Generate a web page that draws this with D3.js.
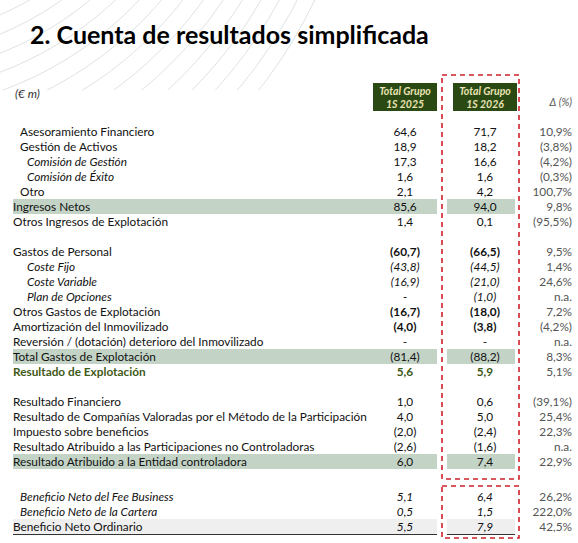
<!DOCTYPE html>
<html><head><meta charset="utf-8">
<script src="https://cdn.jsdelivr.net/npm/d3@7"></script>
<style>body{margin:0;background:#fff}</style></head>
<body><svg id="c" width="578" height="543"></svg>
<script>
const labels = ["Asesoramiento Financiero","Gestión de Activos","Comisión de Gestión","Comisión de Éxito","Otro","Ingresos Netos","Otros Ingresos de Explotación","",
"Gastos de Personal","Coste Fijo","Coste Variable","Plan de Opciones","Otros Gastos de Explotación","Amortización del Inmovilizado","Reversión / (dotación) deterioro del Inmovilizado","Total Gastos de Explotación","Resultado de Explotación","",
"Resultado Financiero","Resultado de Compañías Valoradas por el Método de la Participación","Impuesto sobre beneficios","Resultado Atribuido a las Participaciones no Controladoras","Resultado Atribuido a la Entidad controladora","", "",
"Beneficio Neto del Fee Business","Beneficio Neto de la Cartera","Beneficio Neto Ordinario"];
const v2025 = ["64,6","18,9","17,3","1,6","2,1","85,6","1,4","","(60,7)","(43,8)","(16,9)","-","(16,7)","(4,0)","-","(81,4)","5,6","","1,0","4,0","(2,0)","(2,6)","6,0","","","5,1","0,5","5,5"];
const v2026 = ["71,7","18,2","16,6","1,6","4,2","94,0","0,1","","(66,5)","(44,5)","(21,0)","(1,0)","(18,0)","(3,8)","-","(88,2)","5,9","","0,6","5,0","(2,4)","(1,6)","7,4","","","6,4","1,5","7,9"];
const delta = ["10,9%","(3,8%)","(4,2%)","(0,3%)","100,7%","9,8%","(95,5%)","","9,5%","1,4%","24,6%","n.a.","7,2%","(4,2%)","n.a.","8,3%","5,1%","","(39,1%)","25,4%","22,3%","n.a.","22,9%","","","26,2%","222,0%","42,5%"];
const styles = ["i","i","s","s","i","h","","","b","s e","s e","s e","b","b","","h","g","","","","","","h","","","e s2","e s2 u","e t"];

const svg = d3.select("#c");
const F = "Lato, 'Open Sans', sans-serif";
const arcs = svg.append("g");
d3.range(14).forEach(k=>arcs.append("circle").attr("cx",-120).attr("cy",-260+k*4).attr("r",300+k*14)
  .attr("fill","none").attr("stroke","#dde3e3").attr("stroke-width",1));
svg.append("rect").attr("x",0).attr("y",90).attr("width",578).attr("height",460).attr("fill","#fff");
svg.append("text").attr("x",30).attr("y",44).attr("font-family",F).attr("font-weight",700).attr("font-size",25).attr("fill","#000").text("2. Cuenta de resultados simplificada");

const yl = d3.scaleLinear().domain([0,1]).range([132,147]);
const y = i => i>=25 ? yl(i - 2/3) : yl(i);
const x = {lab:13, c1:405, c2:485, d:572};
const g = svg.append("g").attr("font-family",F).attr("font-size",11.8);

g.append("text").attr("x",15).attr("y",98).attr("font-style","italic").attr("fill","#333").text("(€ m)");
[[x.c1,"1S 2025"],[x.c2,"1S 2026"]].forEach(([cx,t])=>{
  g.append("rect").attr("x",cx-32).attr("y",83).attr("width",64).attr("height",28).attr("fill","#2b4a13");
  const tt=g.append("text").attr("x",cx).attr("text-anchor","middle").attr("font-style","italic").attr("font-weight",700).attr("fill","#e9e3b4").attr("font-size",10.5);
  tt.append("tspan").attr("x",cx).attr("y",95).text("Total Grupo");
  tt.append("tspan").attr("x",cx).attr("y",108).text(t);
});
g.append("text").attr("x",x.d).attr("y",106).attr("text-anchor","end").attr("font-style","italic").attr("fill","#555").attr("font-size",10.5).text("Δ (%)");

labels.forEach((l,i)=>{
  if(!l) return;
  const st = styles[i].split(" ");
  const cy = y(i);
  const band = (fill)=>{
    g.append("rect").attr("x",13).attr("y",cy-8).attr("width",424).attr("height",15).attr("fill",fill);
    g.append("rect").attr("x",447).attr("y",cy-8).attr("width",68).attr("height",15).attr("fill",fill);
  };
  const under = ()=>{
    g.append("line").attr("x1",13).attr("x2",437).attr("y1",cy+7.5).attr("y2",cy+7.5).attr("stroke","#333");
    g.append("line").attr("x1",447).attr("x2",515).attr("y1",cy+7.5).attr("y2",cy+7.5).attr("stroke","#333");
  };
  if(st.includes("h")) band("#c3d4c6");
  if(st.includes("t")){ band("#efefef"); under(); }
  if(st.includes("u")) under();
  const lx = st.includes("s2")?20: st.includes("s")?27: st.includes("i")?20:13;
  const green = st.includes("g");
  const col = green?"#3f5a17":"#111";
  g.append("text").attr("x",lx).attr("y",cy+4).attr("fill",col)
    .attr("font-style",st.includes("s")||st.includes("s2")?"italic":"normal")
    .attr("font-weight",green?700:400).text(l);
  [[x.c1,v2025[i]],[x.c2,v2026[i]]].forEach(([cx,t])=>{
    g.append("text").attr("x",cx).attr("y",cy+4).attr("text-anchor","middle").attr("fill",col)
      .attr("font-weight",(st.includes("b")||green)?700:400)
      .attr("font-style",st.includes("e")?"italic":"normal").text(t);
  });
  g.append("text").attr("x",x.d).attr("y",cy+4).attr("text-anchor","end").attr("fill","#555").text(delta[i]);
});
const dash = {fill:"none",stroke:"#d0202a","stroke-width":1.6,"stroke-dasharray":"5,4"};
[[75,479],[486,538]].forEach(([a,b])=>{
  const r=g.append("rect").attr("x",442).attr("y",a).attr("width",77).attr("height",b-a);
  Object.entries(dash).forEach(([k,v])=>r.attr(k,v));
});
</script></body></html>
